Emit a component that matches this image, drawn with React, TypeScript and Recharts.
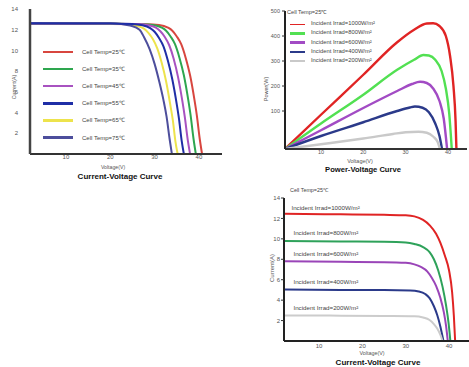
import React from 'react';
import { LineChart, Line, XAxis, YAxis, LabelList } from 'recharts';

const FONT = '"Liberation Sans", Arial, Helvetica, sans-serif';

// ---------- Chart 1: Current-Voltage at cell temperatures (V, A)
const tempLabels = ['Cell Temp=25℃', 'Cell Temp=35℃', 'Cell Temp=45℃', 'Cell Temp=55℃', 'Cell Temp=65℃', 'Cell Temp=75℃'];
const tempColors = ['#d8463f', '#2ea64f', '#a852c0', '#1f2ea6', '#ede34c', '#4d4e9c'];
const ivT25 = [[2, 12.55], [20, 12.55], [28, 12.52], [31, 12.45], [33, 12.2], [34, 11.9], [35, 11.35], [36, 10.6], [37, 9.3], [37.5, 8.5], [38, 7.6], [39, 5.2], [39.5, 3.8], [40.2, 1.4], [40.7, 0]];
const ivT35 = [[2, 12.57], [20, 12.57], [27, 12.53], [29.6, 12.45], [31.6, 12.2], [32.6, 11.9], [33.6, 11.35], [34.6, 10.6], [35.6, 9.3], [36.6, 7.6], [37.6, 5.2], [38.1, 3.8], [38.8, 1.4], [39.3, 0]];
const ivT45 = [[2, 12.58], [20, 12.58], [26, 12.54], [28.3, 12.45], [30.3, 12.2], [31.3, 11.85], [32.3, 11.3], [33.3, 10.5], [34.3, 9.2], [35.3, 7.4], [36.3, 5.0], [36.8, 3.6], [37.5, 1.3], [38.0, 0]];
const ivT55 = [[2, 12.6], [20, 12.6], [25, 12.55], [27, 12.45], [29, 12.15], [30, 11.8], [31, 11.2], [32, 10.4], [33, 9.0], [34, 7.2], [35, 4.8], [35.5, 3.4], [36.1, 1.3], [36.6, 0]];
const ivT65 = [[2, 12.62], [20, 12.6], [23.6, 12.55], [25.6, 12.4], [27.6, 12.1], [28.6, 11.7], [29.6, 11.1], [30.6, 10.2], [31.6, 8.8], [32.6, 7.0], [33.6, 4.6], [34.1, 3.3], [34.7, 1.2], [35.2, 0]];
const ivT75 = [[2, 12.65], [20, 12.62], [22.5, 12.55], [24.5, 12.4], [26.6, 12.0], [27.6, 11.3], [28.9, 10.1], [30, 8.7], [31.1, 6.9], [32, 5.2], [32.7, 3.6], [33.4, 1.4], [33.9, 0]];
const tempSeries = [ivT25, ivT35, ivT45, ivT55, ivT65, ivT75];
const drawOrder1 = [0, 1, 2, 4, 5, 3];
const ticks1X = [10, 20, 30, 40];
const ticks1Y = [2, 4, 6, 8, 10, 12, 14];

// ---------- Chart 2: Power-Voltage at irradiance (V, W)
const irradLabels = ['Incident Irrad=1000W/m²', 'Incident Irrad=800W/m²', 'Incident Irrad=600W/m²', 'Incident Irrad=400W/m²', 'Incident Irrad=200W/m²'];
const pvColors = ['#e02424', '#52e052', '#a24bc4', '#2b3a8a', '#c9c9c9'];
const pv1000 = [[1.5, -52], [10, 85], [20, 245], [28, 375], [32, 425], [35, 450], [36.5, 451], [38, 440], [39.5, 400], [40.5, 320], [41.3, 200], [41.8, 60], [42, -52]];
const pv800 = [[1.5, -52], [10, 50], [20, 165], [28, 265], [32, 305], [34.2, 324], [35.5, 322], [37, 305], [38.5, 260], [39.5, 190], [40.3, 90], [40.9, -52]];
const pv600 = [[1.5, -52], [10, 23], [20, 112], [28, 180], [31.5, 208], [33.4, 217], [35, 212], [36.5, 190], [38, 140], [39, 70], [39.8, -52]];
const pv400 = [[1.5, -52], [10, 0], [20, 55], [28, 100], [31, 114], [32.2, 118], [34, 113], [35.5, 95], [37, 50], [38, 0], [38.6, -52]];
const pv200 = [[1.5, -52], [10, -33], [20, -10], [27, 8], [30, 15], [33, 17], [35, 13], [36.5, -2], [37.6, -25], [38.1, -52]];
const pvSeries = [pv1000, pv800, pv600, pv400, pv200];
const ticks2X = [10, 20, 30, 40];
const ticks2Y = [100, 200, 300, 400, 500];

// ---------- Chart 3: Current-Voltage at irradiance (V, A)
const iv3Colors = ['#e02424', '#2ea25a', '#9a45b8', '#2b3a8a', '#cccccc'];
const ivR1000 = [[2, 12.45], [15, 12.4], [25, 12.35], [30, 12.3], [32, 12.2], [34, 11.85], [35.6, 11.3], [37, 10.5], [38, 9.6], [39, 8.4], [40, 6.9], [40.7, 4.8], [41.1, 2.5], [41.4, 0]];
const ivR800 = [[2, 9.8], [15, 9.75], [25, 9.72], [30, 9.65], [32, 9.5], [34, 9.2], [35.5, 8.7], [36.5, 8.0], [37.5, 6.9], [38.5, 5.3], [39.3, 3.5], [39.9, 1.7], [40.3, 0]];
const ivR600 = [[2, 7.8], [15, 7.75], [25, 7.72], [30, 7.65], [32, 7.5], [33.5, 7.25], [35, 6.8], [36, 6.2], [37, 5.4], [38, 4.2], [38.8, 2.8], [39.3, 1.5], [39.7, 0]];
const ivR400 = [[2, 5.05], [15, 5.0], [25, 5.0], [31, 4.95], [33, 4.85], [34.5, 4.6], [35.5, 4.2], [36.5, 3.4], [37.3, 2.5], [38, 1.4], [38.7, 0]];
const ivR200 = [[2, 2.5], [15, 2.48], [25, 2.45], [32, 2.42], [34, 2.3], [35.5, 2.05], [36.5, 1.65], [37.3, 1.2], [38, 0.6], [38.5, 0]];
const iv3Series = [ivR1000, ivR800, ivR600, ivR400, ivR200];
const ticks3X = [10, 20, 30, 40];
const ticks3Y = [2, 4, 6, 8, 10, 12, 14];

const toPts = (arr: number[][]) => arr.map(([v, y]) => ({ v, y }));

const tickStyle = (size: number) => ({ fontSize: size, fill: '#555', fontFamily: FONT });

function Txt(props: { x: number; y: number; size: number; bold?: boolean; rotate?: boolean; color?: string; anchor?: 'left' | 'center'; children: React.ReactNode }) {
  const { x, y, size, bold, rotate, color, anchor, children } = props;
  const tx = anchor === 'left' ? 'translate(0,-50%)' : 'translate(-50%,-50%)';
  return (
    <div
      style={{
        position: 'absolute',
        left: x,
        top: y,
        transform: tx + (rotate ? ' rotate(-90deg)' : ''),
        fontSize: size,
        fontWeight: bold ? 700 : 400,
        color: color || '#555',
        whiteSpace: 'nowrap',
        lineHeight: 1,
        fontFamily: FONT,
      }}
    >
      {children}
    </div>
  );
}

export default function App() {
  return (
    <div style={{ position: 'absolute', left: 0, top: 0, width: 469, height: 367, background: '#fff', overflow: 'hidden', fontFamily: FONT }}>
      {/* Chart 1 */}
      <div style={{ position: 'absolute', left: 0, top: 0 }}>
        <LineChart width={230} height={185} margin={{ top: 9, right: 8, left: 0, bottom: 0 }}>
          <XAxis type="number" dataKey="v" domain={[1.9, 45.2]} ticks={ticks1X} allowDataOverflow tickLine={false} tickSize={0} tickMargin={1} height={31} axisLine={{ stroke: '#333', strokeWidth: 2 }} tick={tickStyle(6)} />
          <YAxis type="number" domain={[0, 14]} ticks={ticks1Y} allowDataOverflow tickLine={false} tickSize={0} tickMargin={12} width={30} axisLine={{ stroke: '#444', strokeWidth: 2.5 }} tick={tickStyle(6)} />
          {drawOrder1.map((k) => (
            <Line key={k} data={toPts(tempSeries[k])} dataKey="y" type="monotone" stroke={tempColors[k]} strokeWidth={2} dot={false} isAnimationActive={false} />
          ))}
        </LineChart>
      </div>
      {tempLabels.map((lab, k) => (
        <React.Fragment key={lab}>
          <div style={{ position: 'absolute', left: 43, top: 52 + k * 17.1 - 1.25, width: 30, height: 2.5, background: tempColors[k] }} />
          <Txt x={82} y={52 + k * 17.1} size={6} anchor="left" color="#444">{lab}</Txt>
        </React.Fragment>
      ))}
      <Txt x={15} y={87} size={5.3} rotate>Current(A)</Txt>
      <Txt x={113} y={168} size={5.2}>Voltage(V)</Txt>
      <Txt x={120} y={176.5} size={8} bold color="#111">Current-Voltage Curve</Txt>

      {/* Chart 2 */}
      <div style={{ position: 'absolute', left: 240, top: 0 }}>
        <LineChart width={229} height={185} margin={{ top: 11, right: 2, left: 0, bottom: 0 }}>
          <XAxis type="number" dataKey="v" domain={[1.5, 44.5]} ticks={ticks2X} allowDataOverflow tickLine={false} tickSize={0} tickMargin={1} height={36} axisLine={{ stroke: '#333', strokeWidth: 2 }} tick={tickStyle(5.5)} />
          <YAxis type="number" domain={[-52, 500]} ticks={ticks2Y} allowDataOverflow tickSize={3} tickMargin={2} width={45} tickLine={{ stroke: '#333' }} axisLine={{ stroke: '#222', strokeWidth: 2 }} tick={tickStyle(5.5)} />
          {pvSeries.map((s, k) => (
            <Line key={k} data={toPts(s)} dataKey="y" type="monotone" stroke={pvColors[k]} strokeWidth={2.4} dot={false} isAnimationActive={false} />
          ))}
        </LineChart>
      </div>
      <Txt x={287} y={13} size={5.6} anchor="left" color="#444">Cell Temp=25℃</Txt>
      {irradLabels.map((lab, k) => (
        <React.Fragment key={lab}>
          <div style={{ position: 'absolute', left: 290, top: 24 + k * 9.25 - (k === 0 ? 0.5 : 1.25), width: 15, height: k === 0 ? 1 : 2.5, background: pvColors[k] }} />
          <Txt x={311} y={24 + k * 9.25} size={5.8} anchor="left" color="#444">{lab}</Txt>
        </React.Fragment>
      ))}
      <Txt x={267} y={89} size={5.5} rotate>Power(W)</Txt>
      <Txt x={360} y={162} size={5.5}>Voltage(V)</Txt>
      <Txt x={363} y={170} size={7.6} bold color="#111">Power-Voltage Curve</Txt>

      {/* Chart 3 */}
      <div style={{ position: 'absolute', left: 240, top: 185 }}>
        <LineChart width={229} height={182} margin={{ top: 13, right: 0, left: 0, bottom: 0 }}>
          <XAxis type="number" dataKey="v" domain={[1.9, 44.6]} ticks={ticks3X} allowDataOverflow tickLine={false} tickSize={0} tickMargin={3} height={26} axisLine={{ stroke: '#222', strokeWidth: 2 }} tick={tickStyle(6)} />
          <YAxis type="number" domain={[0, 14]} ticks={ticks3Y} allowDataOverflow tickSize={3} tickMargin={1} width={44} tickLine={{ stroke: '#333' }} axisLine={{ stroke: '#222', strokeWidth: 2 }} tick={tickStyle(6)} />
          {iv3Series.map((s, k) => (
            <Line key={k} data={toPts(s)} dataKey="y" type="monotone" stroke={iv3Colors[k]} strokeWidth={2} dot={false} isAnimationActive={false}>
              <LabelList
                dataKey="y"
                content={(p: any) =>
                  p.index === 0 ? (
                    <text x={p.x + (k === 0 ? 7 : 9)} y={p.y - (k === 0 ? 3.5 : 5.5)} fontSize={6.2} fill="#444" fontFamily={FONT}>
                      {irradLabels[k]}
                    </text>
                  ) : (
                    <g />
                  )
                }
              />
            </Line>
          ))}
        </LineChart>
      </div>
      <Txt x={290} y={191} size={5.4} anchor="left" color="#444">Cell Temp=25℃</Txt>
      <Txt x={272} y={268} size={6} rotate>Current(A)</Txt>
      <Txt x={372} y={354} size={5.4}>Voltage(V)</Txt>
      <Txt x={378} y={363} size={8} bold color="#111">Current-Voltage Curve</Txt>
    </div>
  );
}
